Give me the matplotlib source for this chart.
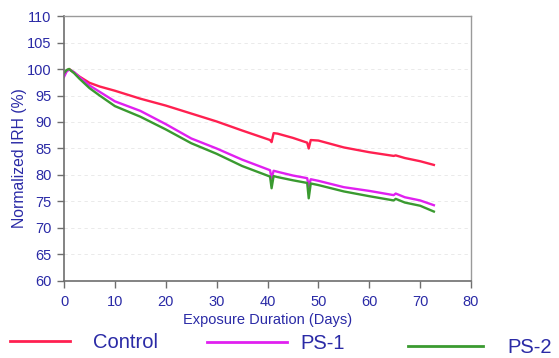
import matplotlib
matplotlib.use("Agg")
import matplotlib.pyplot as plt
from matplotlib.lines import Line2D

plt.rcParams["font.family"] = ["Liberation Sans", "DejaVu Sans"]

TEXT = "#2A2AA6"
AXIS = "#6E6E6E"

days = [0, 0.5, 1, 2, 3, 5, 7, 10, 15, 20, 25, 30, 35, 40.5, 40.8, 41.2, 42, 45,
        47.8, 48.1, 48.5, 50, 55, 60, 64.8, 65.2, 67, 70, 72.7]

control = [98.8, 99.7, 100.0, 99.3, 98.6, 97.4, 96.7, 95.9, 94.4, 93.1, 91.6, 90.1,
           88.4, 86.6, 86.2, 87.9, 87.8, 87.0, 86.1, 85.0, 86.6, 86.5, 85.2, 84.3,
           83.6, 83.7, 83.2, 82.6, 81.9]
ps1 = [98.5, 99.5, 99.9, 99.4, 98.5, 96.9, 95.7, 93.9, 92.1, 89.6, 86.9, 85.0,
       82.9, 80.9, 79.3, 80.8, 80.6, 79.9, 79.4, 77.8, 79.2, 78.9, 77.7, 77.0,
       76.2, 76.5, 75.8, 75.2, 74.3]
ps2 = [99.2, 99.8, 100.0, 99.2, 98.2, 96.4, 95.0, 93.0, 91.0, 88.6, 86.0, 84.0,
       81.7, 79.7, 77.5, 79.8, 79.6, 79.0, 78.5, 75.6, 78.4, 78.1, 76.9, 76.0,
       75.2, 75.5, 74.8, 74.2, 73.1]

series = [("Control", control, "#FF2050"), ("PS-1", ps1, "#E020F0"), ("PS-2", ps2, "#3A9A30")]

fig = plt.figure(figsize=(5.59, 3.58), dpi=100)
ax = fig.add_axes([0.1145, 0.2151, 0.7281, 0.7402])

for name, vals, col in series:
    ax.plot(days, vals, color=col, lw=1.7)

ax.set_xlim(0, 80)
ax.set_ylim(60, 110)
ax.set_xticks(range(0, 81, 10))
ax.set_yticks(range(60, 111, 5))
ax.yaxis.grid(True, color="#E6E6E6", ls=(0, (4, 4)), lw=0.6)
ax.set_axisbelow(True)

for side in ["left", "bottom"]:
    ax.spines[side].set_color(AXIS)
    ax.spines[side].set_linewidth(1.2)
for side in ["top", "right"]:
    ax.spines[side].set_color("#9A9A9A")
    ax.spines[side].set_linewidth(1.0)

ax.tick_params(direction="out", length=5, width=1, color=AXIS,
               labelcolor=TEXT, labelsize=10.5)
ax.tick_params(axis="y", pad=4)
ax.tick_params(axis="x", pad=5)

ax.set_xlabel("Exposure Duration (Days)", color=TEXT, fontsize=10.5, labelpad=3)
ax.set_ylabel("Normalized IRH (%)", color=TEXT, fontsize=11.3)
ax.yaxis.set_label_coords(-0.09, 0.464)

# legend entries along the bottom, unevenly spaced like the source
# name: (x, y, handlelength, handletextpad)
legend_pos = {"Control": (0.018, 0.042, 3.0, 1.1),
              "PS-1": (0.370, 0.040, 4.0, 0.65),
              "PS-2": (0.730, 0.030, 3.7, 1.25)}
for name, vals, col in series:
    x0, y0, hl, tp = legend_pos[name]
    fig.legend(handles=[Line2D([], [], color=col, lw=2)], labels=[name],
               loc="center left", bbox_to_anchor=(x0, y0), frameon=False,
               handlelength=hl, handletextpad=tp, fontsize=14.5,
               labelcolor=TEXT, borderaxespad=0, borderpad=0)

fig.savefig("out.png", dpi=100)
